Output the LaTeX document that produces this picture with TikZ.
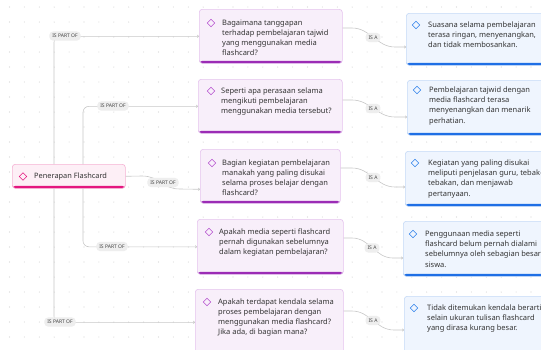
\documentclass[tikz,border=0pt]{standalone}
\usepackage{fontspec}
\setmainfont{Noto Sans}
\usetikzlibrary{arrows.meta,calc}
\definecolor{qfill}{HTML}{F8EFFA}
\definecolor{qborder}{HTML}{E5C3EE}
\definecolor{qbar}{HTML}{9B2CB5}
\definecolor{qdia}{HTML}{B54FCD}
\definecolor{afill}{HTML}{EFF5FE}
\definecolor{aborder}{HTML}{C5DAF7}
\definecolor{abar}{HTML}{1F6FE5}
\definecolor{adia}{HTML}{2C7FEA}
\definecolor{rfill}{HTML}{FDEFF6}
\definecolor{rborder}{HTML}{F6B2D4}
\definecolor{rbar}{HTML}{E4167F}
\definecolor{linec}{HTML}{C8C8C8}
\definecolor{labfill}{HTML}{EEEEEE}
\definecolor{labtext}{HTML}{444444}
\definecolor{txt}{HTML}{333333}
\definecolor{dotc}{HTML}{D4D4D4}
\newcommand{\mydia}[3]{\draw[#1,line width=0.6pt] ($(#2)+(#3)$) +(-3.8,0) -- +(0,-3.8) -- +(3.8,0) -- +(0,3.8) -- cycle;}
\begin{document}
\begin{tikzpicture}[x=1pt,y=-1pt,
  boxbase/.style={anchor=north west, inner sep=0, rounded corners=3pt, line width=0.6pt},
  qbox/.style={boxbase, draw=qborder, fill=qfill,
    path picture={\fill[qbar] ([yshift=2.4pt]path picture bounding box.south west) rectangle (path picture bounding box.south east);}},
  abox/.style={boxbase, draw=aborder, fill=afill, minimum width=160pt,
    path picture={\fill[abar] ([yshift=2.4pt]path picture bounding box.south west) rectangle (path picture bounding box.south east);}},
  rbox/.style={boxbase, draw=rborder, fill=rfill,
    path picture={\fill[rbar] ([yshift=2.4pt]path picture bounding box.south west) rectangle (path picture bounding box.south east);}},
  qtext/.style={anchor=north west, inner sep=0, align=left, font=\fontsize{7.5}{10}\selectfont, text=txt},
  atext/.style={anchor=north west, inner sep=0, align=left, font=\fontsize{7.5}{10.2}\selectfont, text=txt},
  conn/.style={draw=linec, line width=0.6pt, -{To[length=2pt,width=3pt]}},
  plab/.style={fill=labfill, rounded corners=3.8pt, inner xsep=3pt, inner ysep=2.8pt, text height=3.6pt, text depth=0pt, font=\fontsize{5}{5}\selectfont, text=labtext},
]
\useasboundingbox (0,0) rectangle (541,349);
\begin{scope}
\clip (0,0) rectangle (541,349);
\fill[white] (0,0) rectangle (541,349);
\foreach \i in {0,...,36} {\foreach \j in {0,...,23} {\fill[dotc] (9.5+\i*14.9, 7+\j*15) circle (0.55pt);}}

% root
\node[rbox, minimum width=113pt, minimum height=24pt] (root) at (12,164) {};
\mydia{rbar}{root.north west}{11,12.5}
\node[anchor=west, inner sep=0, font=\fontsize{7.4}{9}\selectfont, text=txt] (roott) at ($(root.north west)+(22,12.5)$) {Penerapan Flashcard};

% questions
\node[qbox, minimum width=143pt, minimum height=54pt] (q1) at (199,9) {};
\node[qbox, minimum width=144pt, minimum height=54pt] (q2) at (198,79) {};
\node[qbox, minimum width=140pt, minimum height=54pt] (q3) at (200,149) {};
\node[qbox, minimum width=146pt, minimum height=55pt] (q4) at (197,219) {};
\node[qbox, minimum width=148pt, minimum height=66pt] (q5) at (195,289) {};
\mydia{qdia}{q1.north west}{12,14}
\mydia{qdia}{q2.north west}{13,12}
\mydia{qdia}{q3.north west}{12,14}
\mydia{qdia}{q4.north west}{12,13}
\mydia{qdia}{q5.north west}{12,13}
\node[qtext] (q1t) at ($(q1.north west)+(23,10.6)$) {Bagaimana tanggapan\\terhadap pembelajaran tajwid\\yang menggunakan media\\flashcard?};
\node[qtext] (q2t) at ($(q2.north west)+(23,8.6)$) {Seperti apa perasaan selama\\mengikuti pembelajaran\\menggunakan media tersebut?};
\node[qtext] (q3t) at ($(q3.north west)+(22,10.6)$) {Bagian kegiatan pembelajaran\\manakah yang paling disukai\\selama proses belajar dengan\\flashcard?};
\node[qtext] (q4t) at ($(q4.north west)+(22,9.6)$) {Apakah media seperti flashcard\\pernah digunakan sebelumnya\\dalam kegiatan pembelajaran?};
\node[qtext] (q5t) at ($(q5.north west)+(23,9.6)$) {Apakah terdapat kendala selama\\proses pembelajaran dengan\\menggunakan media flashcard?\\Jika ada, di bagian mana?};

% answers
\node[abox, minimum height=52pt] (a1) at (406,13) {};
\node[abox, minimum height=55pt] (a2) at (407,80) {};
\node[abox, minimum height=55pt] (a3) at (405,151) {};
\node[abox, minimum height=55pt] (a4) at (403,221) {};
\node[abox, minimum height=62pt] (a5) at (404,296) {};
\mydia{adia}{a1.north west}{10,12}
\mydia{adia}{a2.north west}{10,10}
\mydia{adia}{a3.north west}{10,12}
\mydia{adia}{a4.north west}{10,13}
\mydia{adia}{a5.north west}{10,12}
\node[atext] (a1t) at ($(a1.north west)+(22,8.6)$) {Suasana selama pembelajaran\\terasa ringan, menyenangkan,\\dan tidak membosankan.};
\node[atext] (a2t) at ($(a2.north west)+(22,6.6)$) {Pembelajaran tajwid dengan\\media flashcard terasa\\menyenangkan dan menarik\\perhatian.};
\node[atext] (a3t) at ($(a3.north west)+(23,8.6)$) {Kegiatan yang paling disukai\\meliputi penjelasan guru, tebak-\\tebakan, dan menjawab\\pertanyaan.};
\node[atext] (a4t) at ($(a4.north west)+(22,9.6)$) {Penggunaan media seperti\\flashcard belum pernah dialami\\sebelumnya oleh sebagian besar\\siswa.};
\node[atext] (a5t) at ($(a5.north west)+(23,8.6)$) {Tidak ditemukan kendala berarti\\selain ukuran tulisan flashcard\\yang dirasa kurang besar.};

% connectors root -> questions
\coordinate (x54) at (54,0);
\coordinate (x83) at (83,0);
\draw[conn, rounded corners=6pt] (root.north -| x54) |- (q1.west);
\draw[conn, rounded corners=6pt] (root.north -| x83) |- (q2.west);
\draw[conn] (root.east) -- (142,176) .. controls (160,176) and (162,189) .. (180,189) -- ([yshift=-13pt]q3.west);
\draw[conn, rounded corners=6pt] (root.south -| x83) |- (q4.west);
\draw[conn, rounded corners=6pt] (root.south -| x54) |- (q5.west);
\node[plab] (l1) at (65,36) {IS PART OF};
\node[plab] (l2) at (113,106) {IS PART OF};
\node[plab] (l3) at (163,182.5) {IS PART OF};
\node[plab] (l4) at (112,246.5) {IS PART OF};
\node[plab] (l5) at (60,322) {IS PART OF};

% connectors questions -> answers
\draw[conn] ([yshift=-19pt]q1.north east) -- (352,28) to[out=0,in=180] (395,47) -- ([yshift=-34pt]a1.north west);
\draw[conn] ([yshift=-21pt]q2.north east) -- (352,100) to[out=0,in=180] (395,117) -- ([yshift=-37pt]a2.north west);
\draw[conn] ([yshift=-19pt]q3.north east) -- (352,168) to[out=0,in=180] (395,187) -- ([yshift=-36pt]a3.north west);
\draw[conn] ([yshift=-19pt]q4.north east) -- (352,238) to[out=0,in=180] (393,258) -- ([yshift=-37pt]a4.north west);
\draw[conn] ([yshift=-22pt]q5.north east) -- (352,311) to[out=0,in=180] (394,330) -- ([yshift=-34pt]a5.north west);
\node[plab] (i1) at (373,37.5) {IS A};
\node[plab] (i2) at (373,108.5) {IS A};
\node[plab] (i3) at (373,177.5) {IS A};
\node[plab] (i4) at (372,248) {IS A};
\node[plab] (i5) at (373,320.5) {IS A};
\end{scope}
\end{tikzpicture}
\end{document}
